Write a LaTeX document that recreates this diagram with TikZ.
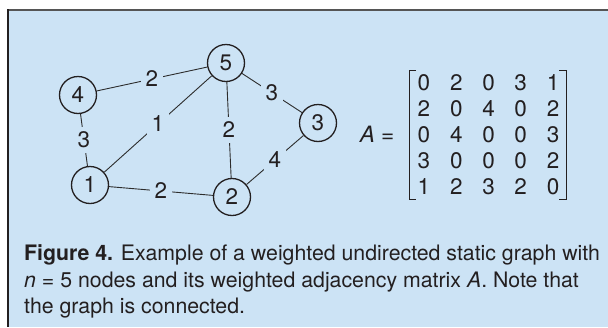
\documentclass[tikz,border=0pt]{standalone}
\usepackage{fontspec}
\setmainfont{TeX Gyre Heros}
\definecolor{bgblue}{RGB}{204,227,245}
\definecolor{ink}{RGB}{35,31,32}
\definecolor{frametop}{RGB}{85,85,85}
\definecolor{edgegray}{RGB}{45,45,45}
\begin{document}
\begin{tikzpicture}[x=1pt,y=-1pt,
  vertex/.style={circle,draw=ink,line width=1.3pt,minimum size=37pt,inner sep=0pt,
    font=\fontsize{22.5}{26}\selectfont,text=ink},
  edge/.style={draw=edgegray,line width=0.9pt},
  wlabel/.style={fill=bgblue,inner sep=0pt,minimum width=22pt,minimum height=26pt,
    font=\fontsize{22.5}{26}\selectfont,text=ink},
  digit/.style={inner sep=0pt,font=\fontsize{22.5}{26}\selectfont,text=ink},
  captxt/.style={anchor=base west,inner sep=0pt,font=\fontsize{21.3}{25}\selectfont,text=ink},
  bracket/.style={draw=ink,line width=1pt}]
\useasboundingbox (0,0) rectangle (608,327);
\fill[white] (0,0) rectangle (608,327);
\fill[bgblue] (8,10) rectangle (608,327);
\draw[frametop,line width=2pt] (8,10) -- (608,10);
\draw[ink,line width=1.5pt] (8,9) -- (8,327);

% graph
\node[vertex] (n4) at (78,95) {4};
\node[vertex] (n5) at (226,63) {5};
\node[vertex] (n3) at (318,123) {3};
\node[vertex] (n1) at (90,185) {1};
\node[vertex] (n2) at (232,197) {2};

\draw[edge] (n4) -- node[wlabel] {2} (n5);
\draw[edge] (n5) -- node[wlabel] {3} (n3);
\draw[edge] (n4) -- node[wlabel] {3} (n1);
\draw[edge] (n1) -- node[wlabel] {1} (n5);
\draw[edge] (n5) -- node[wlabel] {2} (n2);
\draw[edge] (n2) -- node[wlabel] {4} (n3);
\draw[edge] (n1) -- node[wlabel] {2} (n2);

% matrix
\node[digit] (Aeq) at (377,134) {\textit{A} =};
\foreach \row [count=\r] in {{0,2,0,3,1},{2,0,4,0,2},{0,4,0,0,3},{3,0,0,0,2},{1,2,3,2,0}} {
  \foreach \v [count=\c] in \row {
    \node[digit] (m\r\c) at ({424+32.25*(\c-1)},{83+26*(\r-1)}) {\v};
  }
}
\draw[bracket] (416,70) -- (409,70) -- (409,199) -- (416,199);
\draw[bracket] (559,70) -- (566,70) -- (566,199) -- (559,199);

% caption
\node[captxt] (cap1) at (24,260) {\textbf{Figure 4.} Example of a weighted undirected static graph with};
\node[captxt] (cap2) at (24,287) {\textit{n} = 5 nodes and its weighted adjacency matrix \textit{A}. Note that};
\node[captxt] (cap3) at (24,313) {the graph is connected.};
\end{tikzpicture}
\end{document}
